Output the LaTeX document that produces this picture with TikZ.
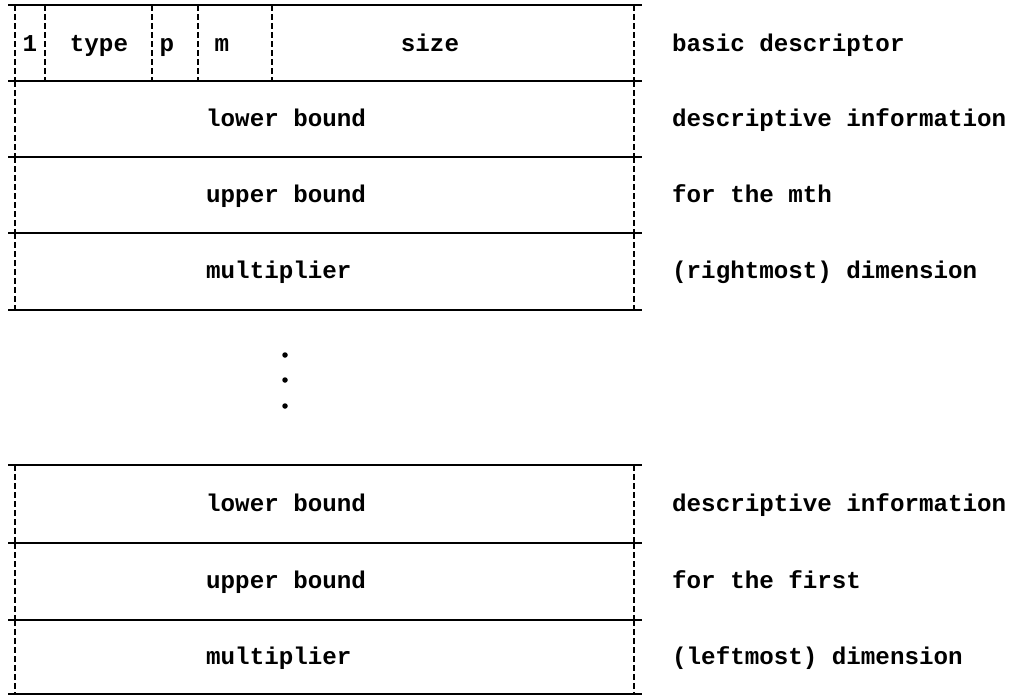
\documentclass[tikz,border=0pt]{standalone}
\usepackage{fontspec}
\setmonofont{Liberation Mono}
\begin{document}
\begin{tikzpicture}[x=1pt,y=-1pt,
  hline/.style={line width=2pt},
  vline/.style={line width=2pt,dash pattern=on 6pt off 3pt},
  txt/.style={font=\fontsize{24.2}{27}\ttfamily\bfseries,inner sep=0pt,text height=12pt,text depth=4pt,yshift=-3pt},
  lab/.style={txt,anchor=west},
  dotm/.style={fill=black,circle,inner sep=0pt,minimum size=5.5pt}]
\useasboundingbox (0,0) rectangle (1026,696);
% group 1
\foreach \y in {5,81,157,233,310} \draw[hline] (8,\y) -- (642,\y);
\foreach \a/\b in {5/81,81/157,157/233,233/310} {
  \draw[vline] (15,\a) -- (15,\b);
  \draw[vline] (634,\a) -- (634,\b);
}
\foreach \x in {45,152,198,272} \draw[vline] (\x,5) -- (\x,81);
\node[txt] (one) at (30,44) {1};
\node[txt] (type) at (99,44) {type};
\node[txt] (p) at (167,44) {p};
\node[txt] (m) at (222,44) {m};
\node[txt] (size) at (430,44) {size};
\node[lab] (lb1) at (206,119) {lower bound};
\node[lab] (ub1) at (206,195) {upper bound};
\node[lab] (mu1) at (206,271) {multiplier};
\node[lab] (r1) at (672,44) {basic descriptor};
\node[lab] (r2) at (672,119) {descriptive information};
\node[lab] (r3) at (672,195) {for the mth};
\node[lab] (r4) at (672,271) {(rightmost) dimension};
% dots
\node[dotm] (d1) at (285,355) {};
\node[dotm] (d2) at (285,380) {};
\node[dotm] (d3) at (285,406) {};
% group 2
\foreach \y in {465,543,620,694} \draw[hline] (8,\y) -- (642,\y);
\foreach \a/\b in {465/543,543/620,620/694} {
  \draw[vline] (15,\a) -- (15,\b);
  \draw[vline] (634,\a) -- (634,\b);
}
\node[lab] (lb2) at (206,504) {lower bound};
\node[lab] (ub2) at (206,581) {upper bound};
\node[lab] (mu2) at (206,657) {multiplier};
\node[lab] (s1) at (672,504) {descriptive information};
\node[lab] (s2) at (672,581) {for the first};
\node[lab] (s3) at (672,657) {(leftmost) dimension};
\end{tikzpicture}
\end{document}
